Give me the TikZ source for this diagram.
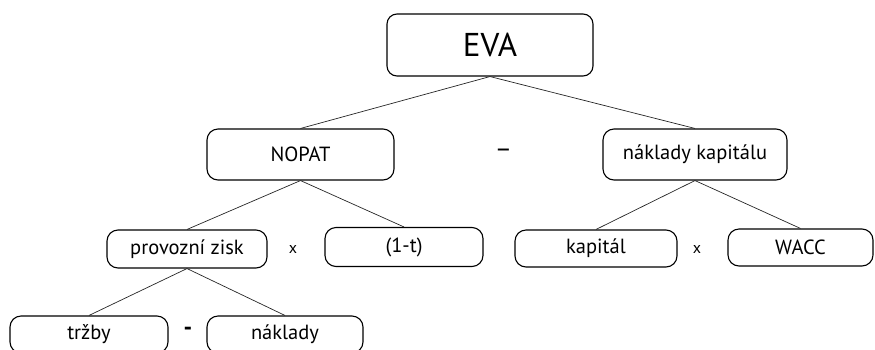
\documentclass[tikz,border=0pt]{standalone}
\usepackage{fontspec}
\setmainfont{PT Sans}
\usepackage{tikz}
\usetikzlibrary{positioning}
\tikzset{
  item/.style={draw, rounded corners=11pt, line width=1.1pt, inner sep=0pt, font=\fontsize{20.5}{23}\selectfont},
  link/.style={line width=0.7pt, color=black!85},
  op/.style={inner sep=0pt, font=\fontsize{16}{18}\selectfont},
}
\begin{document}
\begin{tikzpicture}[x=1pt, y=-1pt]
  \useasboundingbox (0,0) rectangle (875,349);

  \node[item, rounded corners=10pt, minimum width=206pt, minimum height=62pt,
    font=\fontsize{33}{36}\selectfont] (eva) at (490,45) {EVA};

  \node[item, minimum width=187pt, minimum height=51pt] (nopat) at (300.5,154.5) {NOPAT};
  \node[item, minimum width=184pt, minimum height=51pt] (costcap) at (695,154.5) {náklady kapitálu};
  \node[op, font=\fontsize{26}{28}\selectfont] (minusA) at (503.5,153) {–};

  \node[item, minimum width=160pt, minimum height=38pt] (opprofit) at (187,249) {provozní zisk};
  \node[item, minimum width=158pt, minimum height=39pt] (taxfac) at (404,247) {(1-t)};
  \node[op] (timesA) at (293,249) {x};
  \node[item, minimum width=162pt, minimum height=37pt] (capital) at (596,248.5) {kapitál};
  \node[item, minimum width=145pt, minimum height=37pt] (wacc) at (800.5,247.5) {WACC};
  \node[op] (timesB) at (697,249) {x};

  \node[item, minimum width=158pt, minimum height=37pt] (revenue) at (89,334.5) {tržby};
  \node[item, minimum width=156pt, minimum height=37pt] (costs) at (285,334.5) {náklady};
  \node[op, font=\fontsize{24}{26}\selectfont\bfseries] (minusB) at (188,331) {-};

  \draw[link] (eva.south) -- (nopat.north);
  \draw[link] (eva.south) -- (costcap.north);
  \draw[link] (nopat.south) -- (opprofit.north);
  \draw[link] (nopat.south) -- (taxfac.north);
  \draw[link] (costcap.south) -- (capital.north);
  \draw[link] (costcap.south) -- (wacc.north);
  \draw[link] (opprofit.south) -- (revenue.north);
  \draw[link] (opprofit.south) -- (costs.north);
\end{tikzpicture}
\end{document}
